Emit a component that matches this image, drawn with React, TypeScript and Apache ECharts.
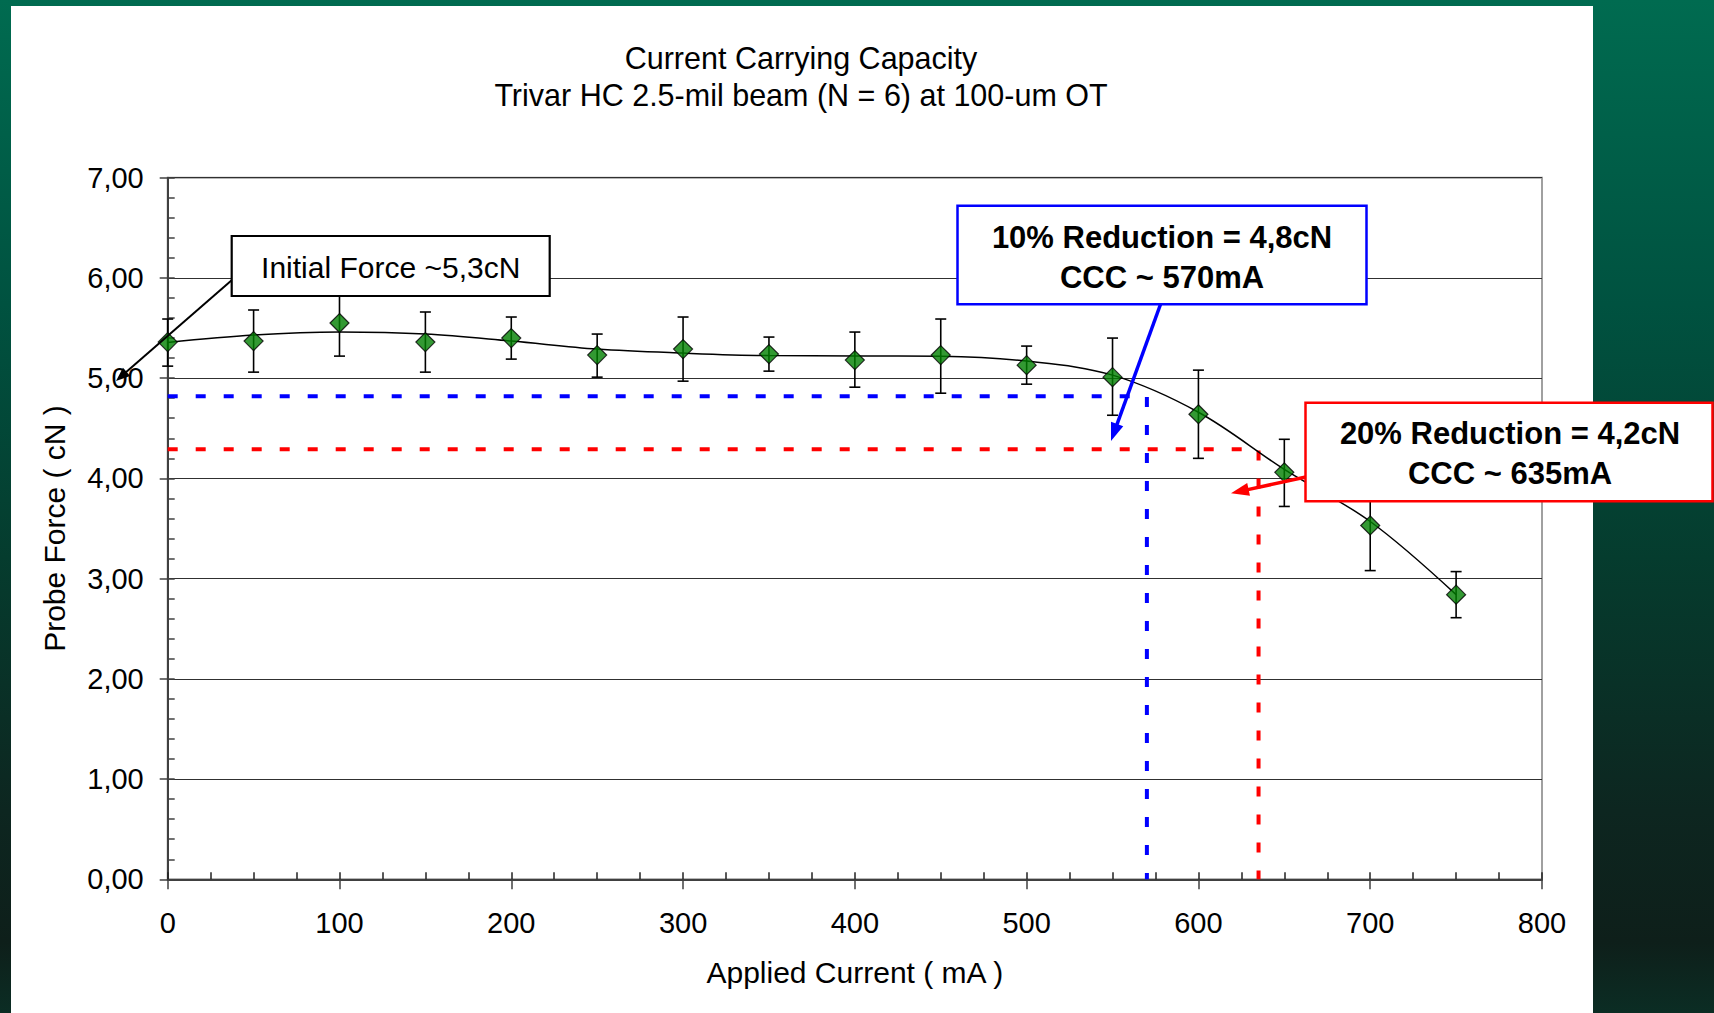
import React, { useEffect, useRef } from "react";
import * as echarts from "echarts";

// ---- data ----
const current = [0, 50, 100, 150, 200, 250, 300, 350, 400, 450, 500, 550, 600, 650, 700, 750];
const force = [5.36, 5.37, 5.55, 5.36, 5.40, 5.23, 5.29, 5.24, 5.18, 5.23, 5.13, 5.01, 4.64, 4.06, 3.53, 2.84];
const errHigh = [5.59, 5.68, 5.89, 5.66, 5.61, 5.44, 5.61, 5.41, 5.46, 5.59, 5.32, 5.40, 5.08, 4.39, 3.99, 3.07];
const errLow = [5.12, 5.06, 5.22, 5.06, 5.19, 5.01, 4.97, 5.07, 4.91, 4.85, 4.94, 4.63, 4.20, 3.72, 3.08, 2.61];
const trend = [5.356, 5.43, 5.46, 5.44, 5.37, 5.29, 5.25, 5.225, 5.222, 5.218, 5.17, 5.03, 4.66, 4.09, 3.57, 2.84];

const reduction10 = { force: 4.82, current: 570 };
const reduction20 = { force: 4.29, current: 635 };

const titleLines = ["Current Carrying Capacity", "Trivar HC 2.5-mil beam (N = 6) at 100-um OT"];
const xAxisName = "Applied Current ( mA )";
const yAxisName = "Probe Force ( cN )";
const initialLabel = "Initial Force ~5,3cN";
const label10 = ["10% Reduction = 4,8cN", "CCC ~ 570mA"];
const label20 = ["20% Reduction = 4,2cN", "CCC ~ 635mA"];

const FONT = "'Liberation Sans', Arial, sans-serif";

function arrow(x1: number, y1: number, x2: number, y2: number, color: string, width: number, headLen: number, headW: number) {
  const dx = x2 - x1;
  const dy = y2 - y1;
  const len = Math.sqrt(dx * dx + dy * dy);
  const ux = dx / len;
  const uy = dy / len;
  const bx = x2 - ux * headLen;
  const by = y2 - uy * headLen;
  const px = -uy;
  const py = ux;
  return [
    {
      type: "line",
      z: 100,
      shape: { x1, y1, x2: bx + ux * 2, y2: by + uy * 2 },
      style: { stroke: color, lineWidth: width },
    },
    {
      type: "polygon",
      z: 100,
      shape: {
        points: [
          [x2, y2],
          [bx + px * headW / 2, by + py * headW / 2],
          [bx - px * headW / 2, by - py * headW / 2],
        ],
      },
      style: { fill: color },
    },
  ];
}

export default function App() {
  const ref = useRef<HTMLDivElement>(null);

  useEffect(() => {
    document.body.style.margin = "0";
    const chart = echarts.init(ref.current!, null, { renderer: "svg" });

    const points = current.map((c, i) => [c, force[i]]);
    const trendData = current.map((c, i) => [c, trend[i]]);
    const errData = current.map((c, i) => [c, errLow[i], errHigh[i]]);

    const option: any = {
      animation: false,
      backgroundColor: new echarts.graphic.LinearGradient(0, 0, 0, 1, [
        { offset: 0, color: "#006b50" },
        { offset: 0.3, color: "#005240" },
        { offset: 0.55, color: "#053c2e" },
        { offset: 0.8, color: "#0d2620" },
        { offset: 0.93, color: "#0e1f1a" },
        { offset: 1, color: "#0b2d24" },
      ]),
      textStyle: { fontFamily: FONT },
      grid: {
        left: 167.7,
        right: 172,
        top: 177.7,
        bottom: 133.7,
        show: true,
        borderColor: "#a0a0a0",
        borderWidth: 2,
        backgroundColor: "transparent",
      },
      xAxis: [
        {
          type: "value",
          min: 0,
          max: 800,
          interval: 100,
          name: xAxisName,
          nameLocation: "middle",
          nameGap: 78,
          nameTextStyle: { fontSize: 30, color: "#000", fontFamily: FONT },
          axisLine: { show: true, lineStyle: { color: "#404040", width: 2 } },
          axisTick: { show: true, inside: false, length: 10, lineStyle: { color: "#404040", width: 1.5 } },
          axisLabel: { fontSize: 29, color: "#000", margin: 29, fontFamily: FONT },
          splitLine: { show: false },
        },
        {
          type: "value",
          min: 0,
          max: 800,
          interval: 25,
          position: "bottom",
          axisLine: { show: false },
          axisTick: { show: true, inside: true, length: 7, lineStyle: { color: "#202020", width: 1.5 } },
          axisLabel: { show: false },
          splitLine: { show: false },
        },
      ],
      yAxis: [
        {
          type: "value",
          min: 0,
          max: 7,
          interval: 1,
          name: yAxisName,
          nameLocation: "middle",
          nameRotate: 90,
          nameGap: 98,
          nameTextStyle: { fontSize: 30, color: "#000", fontFamily: FONT },
          axisLine: { show: true, lineStyle: { color: "#404040", width: 2 } },
          axisTick: { show: true, inside: false, length: 8, lineStyle: { color: "#404040", width: 1.5 } },
          axisLabel: {
            fontSize: 29,
            color: "#000",
            margin: 24,
            fontFamily: FONT,
            formatter: (v: number) => v.toFixed(2).replace(".", ","),
          },
          splitLine: { show: true, lineStyle: { color: "#303030", width: 1 } },
        },
        {
          type: "value",
          min: 0,
          max: 7,
          interval: 0.2,
          position: "left",
          axisLine: { show: false },
          axisTick: { show: true, inside: true, length: 7, lineStyle: { color: "#404040", width: 1.5 } },
          axisLabel: { show: false },
          splitLine: { show: false },
        },
      ],
      series: [
        {
          name: "10% reduction",
          type: "line",
          z: 3,
          symbol: "none",
          silent: true,
          data: [
            [0, reduction10.force],
            [reduction10.current, reduction10.force],
            [reduction10.current, 0],
          ],
          lineStyle: { color: "#0000ff", width: 4, type: [10, 18] },
        },
        {
          name: "20% reduction",
          type: "line",
          z: 3,
          symbol: "none",
          silent: true,
          data: [
            [0, reduction20.force],
            [reduction20.current, reduction20.force],
            [reduction20.current, 0],
          ],
          lineStyle: { color: "#ff0000", width: 4, type: [10, 18] },
        },
        {
          name: "trend",
          type: "line",
          z: 4,
          smooth: 0.35,
          symbol: "none",
          data: trendData,
          lineStyle: { color: "#000", width: 1.5 },
        },
        {
          name: "error",
          type: "custom",
          z: 5,
          data: errData,
          renderItem: (params: any, api: any) => {
            const x = api.value(0);
            const lo = api.coord([x, api.value(1)]);
            const hi = api.coord([x, api.value(2)]);
            const cap = 5.5;
            const st = { stroke: "#000", lineWidth: 1.6 };
            return {
              type: "group",
              children: [
                { type: "line", shape: { x1: lo[0], y1: lo[1], x2: hi[0], y2: hi[1] }, style: st },
                { type: "line", shape: { x1: hi[0] - cap, y1: hi[1], x2: hi[0] + cap, y2: hi[1] }, style: st },
                { type: "line", shape: { x1: lo[0] - cap, y1: lo[1], x2: lo[0] + cap, y2: lo[1] }, style: st },
              ],
            };
          },
        },
        {
          name: "Probe Force",
          type: "scatter",
          z: 6,
          symbol: "diamond",
          symbolSize: [19, 19],
          data: points,
          itemStyle: { color: "#008000", borderColor: "#000", borderWidth: 1.2 },
        },
      ],
      graphic: [
        {
          type: "rect",
          z: -10,
          silent: true,
          shape: { x: 11, y: 6, width: 1582, height: 1010 },
          style: { fill: "#ffffff" },
        },
        {
          type: "text",
          z: 100,
          x: 801,
          y: 58,
          style: {
            text: titleLines[0],
            fontSize: 30.5,
            fontFamily: FONT,
            fill: "#000",
            textAlign: "center",
            textVerticalAlign: "middle",
          },
        },
        {
          type: "text",
          z: 100,
          x: 801,
          y: 95,
          style: {
            text: titleLines[1],
            fontSize: 30.5,
            fontFamily: FONT,
            fill: "#000",
            textAlign: "center",
            textVerticalAlign: "middle",
          },
        },
        ...arrow(240, 273, 116, 381, "#000", 2, 14, 11),
        {
          type: "rect",
          z: 101,
          shape: { x: 231.7, y: 236, width: 318, height: 60 },
          style: { fill: "#fff", stroke: "#000", lineWidth: 2.2 },
        },
        {
          type: "text",
          z: 102,
          x: 390.7,
          y: 267,
          style: {
            text: initialLabel,
            fontSize: 30,
            fontFamily: FONT,
            fill: "#000",
            textAlign: "center",
            textVerticalAlign: "middle",
          },
        },
        ...arrow(1161, 303, 1111, 441, "#0000ff", 3.5, 18, 13),
        {
          type: "rect",
          z: 101,
          shape: { x: 957.5, y: 205.7, width: 409, height: 98.5 },
          style: { fill: "#fff", stroke: "#0000ff", lineWidth: 2.5 },
        },
        {
          type: "text",
          z: 102,
          x: 1162,
          y: 237.5,
          style: {
            text: label10[0],
            fontSize: 31,
            fontWeight: "bold",
            fontFamily: FONT,
            fill: "#000",
            textAlign: "center",
            textVerticalAlign: "middle",
          },
        },
        {
          type: "text",
          z: 102,
          x: 1162,
          y: 277,
          style: {
            text: label10[1],
            fontSize: 31,
            fontWeight: "bold",
            fontFamily: FONT,
            fill: "#000",
            textAlign: "center",
            textVerticalAlign: "middle",
          },
        },
        ...arrow(1307, 476.7, 1231, 493.3, "#ff0000", 3.5, 18, 13),
        {
          type: "rect",
          z: 101,
          shape: { x: 1305.5, y: 402.7, width: 407, height: 98.5 },
          style: { fill: "#fff", stroke: "#ff0000", lineWidth: 2.5 },
        },
        {
          type: "text",
          z: 102,
          x: 1510,
          y: 433.5,
          style: {
            text: label20[0],
            fontSize: 31,
            fontWeight: "bold",
            fontFamily: FONT,
            fill: "#000",
            textAlign: "center",
            textVerticalAlign: "middle",
          },
        },
        {
          type: "text",
          z: 102,
          x: 1510,
          y: 473,
          style: {
            text: label20[1],
            fontSize: 31,
            fontWeight: "bold",
            fontFamily: FONT,
            fill: "#000",
            textAlign: "center",
            textVerticalAlign: "middle",
          },
        },
      ],
    };

    chart.setOption(option);
    return () => chart.dispose();
  }, []);

  return (
    <div
      ref={ref}
      style={{ position: "fixed", left: 0, top: 0, width: 1714, height: 1013 }}
    />
  );
}
